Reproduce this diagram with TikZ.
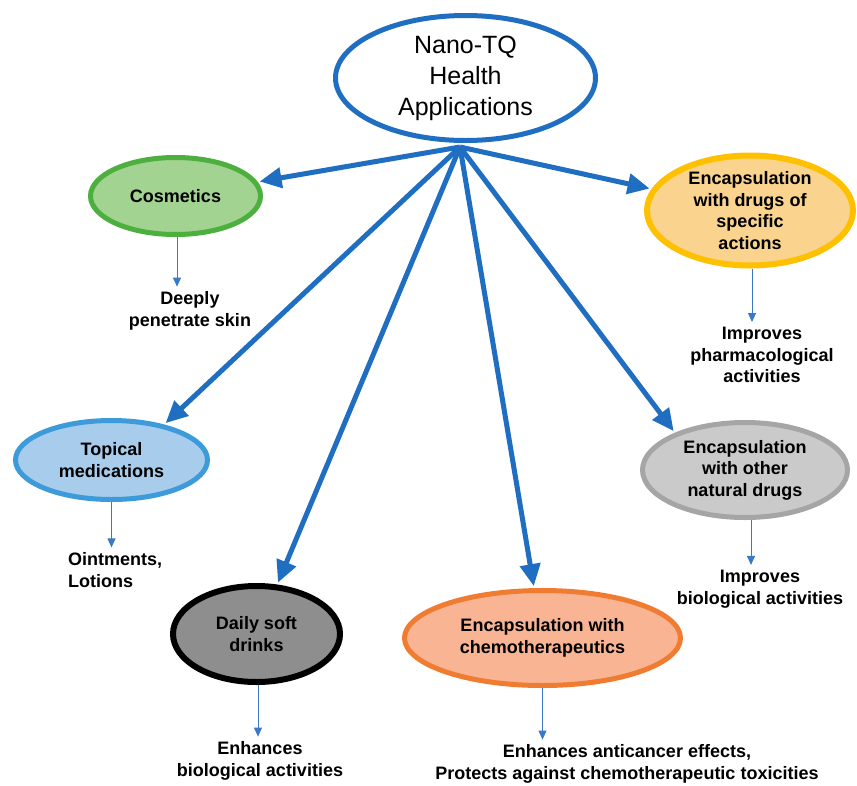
\documentclass[tikz,border=0pt]{standalone}
\usepackage{fontspec}
\setmainfont{Liberation Sans}
\usetikzlibrary{shapes.geometric,arrows.meta}
\definecolor{hubblue}{RGB}{31,110,193}
\definecolor{smallblue}{RGB}{58,120,200}
\definecolor{cosstroke}{RGB}{76,175,62}
\definecolor{cosfill}{RGB}{163,211,145}
\definecolor{goldstroke}{RGB}{255,192,0}
\definecolor{goldfill}{RGB}{250,212,142}
\definecolor{topstroke}{RGB}{61,155,217}
\definecolor{topfill}{RGB}{168,204,236}
\definecolor{grystroke}{RGB}{165,165,165}
\definecolor{gryfill}{RGB}{202,202,202}
\definecolor{dayfill}{RGB}{142,142,142}
\definecolor{chemstroke}{RGB}{240,124,50}
\definecolor{chemfill}{RGB}{249,180,148}
\begin{document}
\begin{tikzpicture}[x=1pt,y=-1pt,
  bubble/.style={ellipse, inner sep=0pt, align=center, line width=5pt,
    font=\fontsize{18}{21.5}\selectfont\bfseries},
  big/.style={draw=hubblue, line width=5pt, shorten >=2pt,
    -{Triangle[length=22pt,width=20pt]}},
  small/.style={draw=smallblue, line width=1pt, shorten >=5pt,
    -{Triangle[length=9pt,width=8pt]}},
  lab/.style={align=center, inner sep=0pt,
    font=\fontsize{18}{21.5}\selectfont\bfseries}]
\useasboundingbox (0,0) rectangle (857,785);

% central node
\node[bubble, draw=hubblue, fill=white, minimum width=260pt, minimum height=125pt,
  font=\fontsize{25}{31}\selectfont] (hub) at (465.5,78) {Nano-TQ\\Health\\Applications};

% application nodes
\node[bubble, draw=cosstroke, fill=cosfill, minimum width=170pt, minimum height=77pt]
  (cos) at (175.5,196) {Cosmetics};
\node[bubble, draw=goldstroke, fill=goldfill, line width=6pt, minimum width=206pt, minimum height=110pt]
  (gold) at (750,210.5) {Encapsulation\\with drugs of\\specific\\actions};
\node[bubble, draw=topstroke, fill=topfill, minimum width=192pt, minimum height=79pt]
  (top) at (111.5,460) {Topical\\medications};
\node[bubble, draw=grystroke, fill=gryfill, minimum width=205pt, minimum height=95pt]
  (gry) at (745,470) {Encapsulation\\with other\\natural drugs};
\node[bubble, draw=black, fill=dayfill, line width=6pt, minimum width=167pt, minimum height=96pt]
  (day) at (256.5,634) {Daily soft\\drinks};
\node[bubble, draw=chemstroke, fill=chemfill, minimum width=276pt, minimum height=95pt]
  (chem) at (542.5,638) {Encapsulation with\\chemotherapeutics};

% effect labels
\node[lab] (cosL) at (190,311) {Deeply\\penetrate skin};
\node[lab] (goldL) at (762,355) {Improves\\pharmacological\\activities};
\node[lab, align=left, anchor=west] (topL) at (68,570) {Ointments,\\Lotions};
\node[lab] (gryL) at (760,589) {Improves\\biological activities};
\node[lab] (dayL) at (260,761) {Enhances\\biological activities};
\node[lab] (chemL) at (627,764) {Enhances anticancer effects,\\Protects against chemotherapeutic toxicities};

% main connectors
\coordinate (o) at (460,147);
\draw[big] (o) -- (cos);
\draw[big] (o) -- (gold);
\draw[big] (o) -- (top.34);
\draw[big] (o) -- (day);
\draw[big] (o) -- (chem);
\draw[big] (o) -- (gry.152);

% small connectors
\draw[small] ([xshift=1.5pt]cos.south) -- ([xshift=1.5pt]cos.south |- cosL.north);
\draw[small] ([xshift=2pt]gold.south) -- ([xshift=2pt]gold.south |- goldL.north);
\draw[small] (top.south) -- (top.south |- topL.north);
\draw[small] ([xshift=6pt]gry.south) -- ([xshift=6pt]gry.south |- gryL.north);
\draw[small] ([xshift=1.5pt]day.south) -- ([xshift=1.5pt]day.south |- dayL.north);
\draw[small] (chem.south) -- (chem.south |- chemL.north);
\end{tikzpicture}
\end{document}
